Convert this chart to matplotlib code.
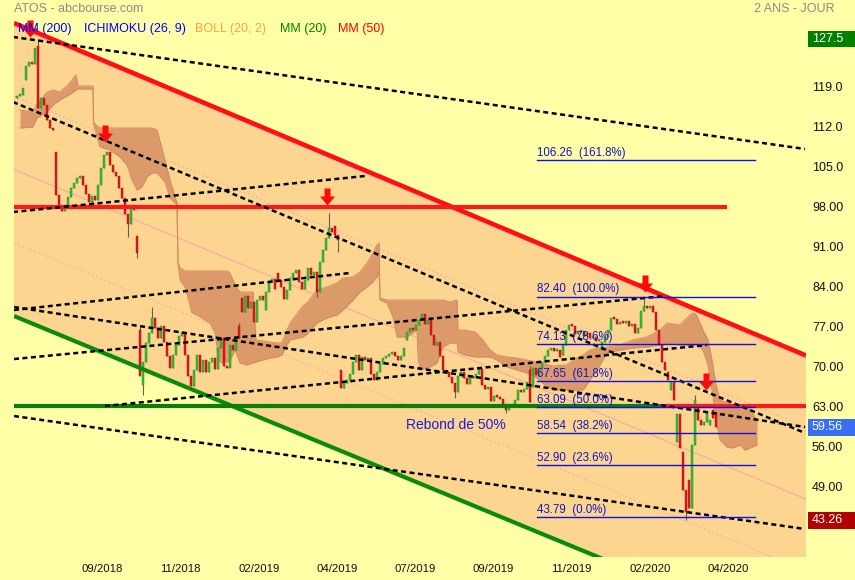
import numpy as np
import matplotlib
matplotlib.use("Agg")
import matplotlib.pyplot as plt
import matplotlib.transforms as mtransforms
from matplotlib.path import Path
from matplotlib.markers import MarkerStyle
from matplotlib.patches import Rectangle

plt.rcParams['font.family'] = ['Liberation Sans', 'DejaVu Sans']

# ---------------------------------------------------------------- data
# candles: one bar per two sessions, prices in EUR
opens = [
    117.18, 117.53, 117.70, 120.33, 122.78, 123.48, 123.13, 126.28, 115.43, 117.18,
    115.95, 113.33, 111.93, 107.73, 100.20, 97.93, 97.40, 98.45, 99.85, 101.43,
    102.30, 103.18, 103.53, 101.95, 100.38, 98.98, 100.03, 99.33, 101.95, 104.93,
    107.20, 107.73, 105.45, 104.23, 103.53, 101.43, 99.68, 96.88, 95.13, 98.45,
    93.03, 76.58, 66.96, 70.98, 74.30, 76.06, 78.68, 76.93, 75.18, 77.28,
    74.48, 72.03, 69.93, 72.20, 73.96, 75.53, 76.23, 72.20, 68.53, 66.78,
    69.58, 72.20, 69.23, 71.33, 69.23, 70.98, 71.68, 69.76, 73.43, 75.18,
    70.28, 69.93, 73.96, 73.08, 77.28, 82.18, 79.73, 82.53, 80.43, 81.48,
    77.98, 81.83, 82.53, 80.08, 83.23, 84.98, 85.51, 86.56, 85.33, 84.11,
    82.01, 83.58, 85.68, 86.56, 87.08, 84.98, 83.76, 85.33, 87.43, 86.21,
    86.73, 83.23, 88.48, 90.58, 92.68, 94.43, 94.78, 93.21, 69.58, 66.43,
    67.31, 67.83, 68.88, 70.98, 72.20, 69.58, 71.86, 71.33, 71.68, 68.88,
    67.83, 69.23, 70.63, 71.68, 72.03, 72.38, 72.73, 72.03, 71.33, 72.03,
    74.83, 76.23, 76.93, 76.58, 77.46, 78.33, 79.38, 77.63, 78.33, 75.71,
    73.96, 74.48, 72.03, 69.58, 69.23, 68.36, 67.31, 65.73, 68.53, 69.23,
    68.18, 67.13, 68.53, 68.18, 68.88, 69.76, 66.96, 66.26, 66.61, 64.16,
    65.03, 64.86, 64.51, 63.63, 62.58, 63.28, 63.63, 64.33, 66.08, 65.73,
    66.26, 69.58, 66.61, 69.93, 68.71, 69.93, 70.98, 72.03, 73.08, 73.43,
    72.91, 73.08, 72.20, 73.96, 76.58, 77.46, 77.28, 75.88, 76.23, 76.41,
    75.53, 76.06, 75.18, 75.36, 74.66, 73.08, 74.48, 75.36, 76.58, 78.68,
    78.51, 77.63, 77.98, 77.81, 78.16, 77.28, 77.63, 76.06, 76.93, 79.91,
    80.78, 80.43, 80.78, 79.73, 76.58, 73.96, 70.98, 69.23, 66.08, 67.48,
    56.98, 61.88, 55.23, 48.58, 50.33, 45.43, 56.46, 63.46, 60.83, 59.96,
    60.48, 59.96, 62.58, 62.23,
]
closes = [
    117.53, 117.70, 118.93, 122.78, 123.48, 123.13, 125.93, 115.43, 117.18, 115.95,
    113.33, 111.93, 111.58, 100.20, 97.93, 97.40, 98.45, 99.85, 101.43, 102.30,
    103.18, 103.53, 101.95, 100.38, 98.98, 100.03, 99.33, 101.95, 104.93, 107.20,
    107.73, 105.45, 104.23, 103.53, 101.43, 99.68, 96.88, 95.13, 98.45, 97.58,
    90.06, 68.53, 70.98, 74.30, 76.06, 78.68, 76.93, 75.18, 77.28, 74.48,
    72.03, 69.93, 72.20, 73.96, 75.53, 76.23, 72.20, 68.53, 66.78, 69.58,
    72.20, 69.23, 71.33, 69.23, 70.98, 71.68, 69.76, 73.43, 75.18, 70.28,
    69.93, 73.96, 73.08, 75.18, 75.18, 79.73, 82.53, 80.43, 81.48, 77.98,
    81.83, 82.53, 81.83, 83.23, 84.98, 85.51, 83.76, 85.33, 84.11, 82.01,
    83.58, 85.68, 86.56, 87.08, 84.98, 83.76, 85.33, 87.43, 86.21, 86.73,
    83.23, 88.48, 90.58, 92.68, 94.43, 93.73, 93.21, 92.33, 66.43, 67.31,
    67.83, 68.88, 70.98, 72.20, 69.58, 71.86, 71.33, 71.68, 68.88, 67.83,
    69.23, 70.63, 71.68, 72.03, 72.38, 72.73, 72.03, 71.33, 72.03, 73.43,
    76.23, 76.93, 76.58, 77.46, 78.33, 79.38, 77.63, 78.33, 75.71, 73.96,
    74.48, 72.03, 69.58, 69.23, 68.36, 67.31, 65.73, 68.53, 69.23, 68.18,
    67.13, 68.53, 68.18, 68.88, 69.76, 66.96, 66.26, 66.61, 64.16, 65.03,
    64.86, 64.51, 63.63, 62.58, 63.28, 63.63, 64.33, 66.08, 65.73, 66.26,
    67.48, 63.98, 69.93, 68.71, 69.93, 70.98, 72.03, 73.08, 73.43, 72.91,
    73.08, 71.86, 73.96, 76.58, 77.46, 77.28, 75.88, 76.23, 76.41, 75.53,
    76.06, 75.18, 75.36, 74.66, 74.83, 74.48, 75.36, 76.58, 78.68, 78.51,
    77.63, 77.98, 77.81, 78.16, 77.28, 77.63, 76.06, 76.93, 79.91, 80.78,
    80.43, 80.78, 79.73, 76.58, 73.96, 70.98, 69.58, 67.83, 67.48, 64.33,
    61.88, 55.93, 48.58, 44.73, 45.43, 56.46, 64.33, 60.83, 59.96, 60.48,
    62.23, 60.83, 61.18, 59.56,
]
# intraday extremes reaching beyond the body (bar index -> price)
wick_high = {7: 127.5, 41: 77.10, 45: 80.60, 74: 77.80, 104: 97.06,
             171: 70.28, 209: 82.40, 226: 65.21}
wick_low = {37: 92.86, 40: 89.18, 42: 65.20, 100: 82.36, 107: 90.23,
            146: 64.68, 163: 62.06, 223: 43.26}

# Ichimoku (26, 9) cloud envelope: bar position, upper edge, lower edge
cloud_x = [
    1.0, 5.33, 6.67, 10.0, 12.0, 14.33, 16.67, 18.33, 19.67, 20.33,
    25.33, 25.5, 26.67, 27.67, 31.0, 34.33, 36.67, 38.33, 40.0, 41.67,
    43.33, 45.0, 46.67, 49.33, 51.0, 53.0, 53.33, 53.67, 54.33, 56.0,
    58.33, 60.0, 64.33, 66.0, 66.67, 67.0, 68.33, 70.0, 71.0, 72.67,
    74.33, 76.67, 78.67, 79.67, 82.0, 84.33, 86.67, 88.33, 90.0, 91.0,
    95.33, 96.67, 100.0, 103.33, 106.67, 108.67, 112.0, 114.33, 116.67, 118.67,
    120.0, 120.67, 121.0, 123.33, 125.33, 126.67, 130.0, 133.33, 133.67, 134.33,
    137.67, 140.0, 142.0, 144.33, 146.67, 147.0, 149.33, 152.67, 155.33, 157.67,
    160.0, 163.33, 166.67, 170.0, 173.33, 176.0, 178.67, 183.33, 185.33, 188.67,
    191.0, 193.33, 196.67, 201.0, 205.33, 210.0, 214.33, 216.67, 221.0, 224.33,
    225.67, 226.67, 228.67, 230.33, 231.67, 233.0, 234.33, 236.67, 238.67, 241.0,
    242.67, 244.33, 246.67,
]
cloud_top = [
    115.08, 114.73, 116.13, 118.23, 118.58, 118.23, 119.28, 120.33, 121.21, 119.28,
    119.28, 112.98, 112.28, 111.93, 111.93, 111.93, 111.93, 111.93, 111.93, 111.93,
    111.93, 111.93, 111.58, 106.33, 102.83, 99.33, 98.98, 88.48, 87.43, 86.91,
    86.91, 86.91, 86.91, 86.91, 86.91, 86.91, 86.91, 86.91, 86.56, 84.46,
    83.23, 83.23, 83.23, 74.83, 74.66, 74.48, 74.31, 74.31, 76.58, 77.81,
    80.78, 81.31, 83.58, 84.11, 84.81, 85.68, 85.86, 86.73, 88.31, 90.06,
    91.46, 91.81, 82.18, 81.83, 81.83, 81.83, 81.83, 81.83, 81.83, 81.83,
    81.83, 81.83, 81.83, 81.48, 81.83, 76.58, 76.58, 76.23, 74.83, 73.08,
    72.21, 71.86, 71.68, 71.33, 70.98, 70.63, 70.28, 70.46, 71.33, 72.21,
    73.08, 73.43, 73.61, 73.96, 74.83, 75.36, 76.58, 77.81, 77.46, 79.21,
    79.56, 79.03, 76.58, 74.83, 71.33, 66.96, 64.33, 63.81, 63.46, 62.58,
    63.46, 62.58, 60.83,
]
cloud_bottom = [
    111.93, 112.10, 113.68, 114.73, 115.95, 116.83, 117.53, 118.06, 118.58, 118.76,
    118.76, 112.63, 110.36, 108.61, 108.08, 106.86, 105.46, 102.83, 101.08, 101.61,
    103.36, 104.06, 104.06, 102.48, 99.68, 98.63, 98.28, 87.96, 85.33, 84.11,
    79.56, 79.21, 77.81, 76.06, 73.61, 71.33, 70.81, 70.98, 71.33, 73.08,
    70.81, 70.46, 70.81, 70.98, 71.33, 71.68, 71.86, 72.21, 73.96, 74.83,
    75.36, 75.88, 77.81, 78.68, 79.21, 80.08, 81.83, 83.23, 84.11, 84.98,
    85.86, 86.73, 81.83, 81.31, 78.86, 75.36, 75.36, 76.58, 71.86, 69.58,
    70.11, 70.81, 73.61, 74.31, 74.31, 72.73, 72.21, 71.86, 71.86, 71.86,
    71.33, 70.11, 69.58, 69.06, 68.18, 66.96, 66.08, 66.08, 66.08, 66.08,
    67.83, 69.58, 72.56, 73.08, 73.43, 73.61, 73.96, 74.31, 73.96, 73.96,
    73.96, 73.96, 73.08, 70.46, 66.08, 60.83, 57.33, 56.11, 55.93, 56.46,
    55.58, 55.93, 56.46,
]

# bearish channel: (bar, price) at both ends
channel_top = ((-1.0, 130.30), (263.0, 72.12))
channel_bottom = ((-1.0, 79.03), (263.0, 21.85))

# dotted trend lines: bar0, price0, bar1, price1
trend_lines = [
    (-1.33, 127.86, 262.67, 108.26),
    (-1.33, 116.48, 262.67, 58.56),
    (-1.33, 97.23, 116.0, 103.53),
    (-1.0, 80.08, 111.0, 86.56),
    (-1.0, 80.60, 262.67, 59.61),
    (-1.0, 71.50, 216.0, 82.53),
    (29.33, 63.28, 230.0, 73.96),
    (-1.0, 61.53, 262.67, 41.76),
]

# horizontal levels: price, bar0, bar1, colour
levels = [
    (98.1, -1.0, 236.67, '#FF1A1A'),
    (63.2, -1.0, 214.33, '#0A7D0A'),
    (63.2, 214.33, 263.0, '#FF1A1A'),
]

# resistance arrows (bar, price of the tip)
arrow_x = [4.33, 29.33, 103.33, 209.33, 229.67]
arrow_y = [127.86, 109.48, 98.45, 83.23, 66.08]

# Fibonacci retracement
fib_levels = [106.26, 82.40, 74.13, 67.65, 63.09, 58.54, 52.90, 43.79]
fib_pcts = ['161.8%', '100.0%', '78.6%', '61.8%', '50.0%', '38.2%', '23.6%', '0.0%']
fib_span = (173.33, 246.0)

# axis labelling
price_ticks = [119.0, 112.0, 105.0, 98.0, 91.0, 84.0, 77.0, 70.0, 63.0, 56.0, 49.0]
price_tags = [(127.5, '#008000'), (59.56, '#3A6EF0'), (43.26, '#B00000')]
date_ticks = [28.33, 54.33, 80.67, 106.67, 132.67, 158.67, 184.67, 211.0, 237.0]
date_labels = ['09/2018', '11/2018', '02/2019', '04/2019', '07/2019',
               '09/2019', '11/2019', '02/2020', '04/2020']

legend_items = [('MM (200)', '#0000FF', 18), ('ICHIMOKU (26, 9)', '#0000FF', 84),
                ('BOLL (20, 2)', '#FFA040', 195), ('MM (20)', '#008000', 280),
                ('MM (50)', '#FF0000', 338)]

# ---------------------------------------------------------------- figure
BG = '#FFFFA8'
W, H = 855, 580
fig = plt.figure(figsize=(W / 100, H / 100), dpi=100, facecolor=BG)
ax = fig.add_axes([14 / W, 1 - 557 / H, 792 / W, 539 / H])
ax.set_facecolor(BG)
ax.set_xlim(-1, 263)
ax.set_ylim(36.86, 131.18)
for s in ax.spines.values():
    s.set_visible(False)

# channel body
(tx0, ty0), (tx1, ty1) = channel_top
(bx0, by0), (bx1, by1) = channel_bottom
ax.fill([tx0, tx1, bx1, bx0], [ty0, ty1, by1, by0], color='#FCD591', lw=0, zorder=1)
for frac, ls in [(0.25, (0, (1.5, 2.5))), (0.5, '-'), (0.75, (0, (1.5, 2.5)))]:
    ax.plot([tx0, tx1], [ty0 + frac * (by0 - ty0), ty1 + frac * (by1 - ty1)],
            color='#F5A8A8', lw=0.8, ls=ls, zorder=2)
ax.plot([tx0, tx1], [ty0 - 0.55, ty1 - 0.55], color='#F8B8B8', lw=0.8, zorder=2)

# Ichimoku cloud
ax.fill_between(cloud_x, cloud_bottom, cloud_top, color='#DC9A6B', lw=0, zorder=3)
ax.plot(cloud_x, cloud_top, color='#D38A5B', lw=0.7, zorder=3)
ax.plot(cloud_x, cloud_bottom, color='#D38A5B', lw=0.7, zorder=3)

# candles
xb = np.arange(len(closes))
o = np.array(opens)
c = np.array(closes)
body_lo = np.minimum(o, c)
body_hi = np.maximum(o, c)
hi = body_hi.copy()
lo = body_lo.copy()
for k, v in wick_high.items():
    hi[k] = v
for k, v in wick_low.items():
    lo[k] = v
ax.vlines(xb, lo, hi, color='#6E5A5A', lw=0.8, zorder=4)
up = c >= o
h = np.maximum(body_hi - body_lo, 0.3)
ax.bar(xb[up], h[up], bottom=body_lo[up], width=0.88, color='#2FC22F',
       edgecolor='#1E8A1E', lw=0.3, zorder=5)
ax.bar(xb[~up], h[~up], bottom=body_lo[~up], width=0.88, color='#E5141C',
       edgecolor='#A81010', lw=0.3, zorder=5)

# channel borders and horizontal levels
ax.plot([tx0, tx1], [ty0, ty1], color='#FF1010', lw=3.3, zorder=6, solid_capstyle='butt')
ax.plot([bx0, bx1], [by0, by1], color='#0A8A0A', lw=3.0, zorder=6, solid_capstyle='butt')
for price, x0, x1, col in levels:
    ax.plot([x0, x1], [price, price], color=col, lw=3.0, zorder=6, solid_capstyle='butt')

# dotted trend lines
for x0, y0, x1, y1 in trend_lines:
    ax.plot([x0, x1], [y0, y1], color='black', lw=1.8, ls=(0, (2.0, 1.4)), zorder=7)

# Fibonacci retracement
for lvl, pct in zip(fib_levels, fib_pcts):
    ax.plot(fib_span, [lvl, lvl], color='#1010E6', lw=1.0, zorder=8)
    ax.text(fib_span[0], lvl + 0.25, f'{lvl:.2f}  ({pct})', color='#1414C8',
            fontsize=8.3, ha='left', va='bottom', zorder=9)

ax.text(129.67, 59.95, 'Rebond de 50%', color='#1A1AE6', fontsize=10,
        ha='left', va='center', zorder=9)

# resistance arrows
arrow = Path([(-3, 17), (3, 17), (3, 9), (7.5, 9), (0, 0), (-7.5, 9), (-3, 9), (-3, 17), (-3, 17)],
             [Path.MOVETO] + [Path.LINETO] * 7 + [Path.CLOSEPOLY])
ax.plot(arrow_x, arrow_y, ls='none', marker=MarkerStyle(arrow), ms=24.5,
        color='#FF0A0A', mec='none', zorder=10, clip_on=False)

# price axis on the right
trans = mtransforms.blended_transform_factory(ax.transAxes, ax.transData)
xt = (812 - 14) / 792
for v in price_ticks:
    ax.text(xt, v, f'{v:.1f}' if v >= 100 else f'{v:.2f}', transform=trans,
            fontsize=9, color='#111111', ha='left', va='center', clip_on=False)
for v, col in price_tags:
    ax.add_patch(Rectangle(((808 - 14) / 792, v - 1.45), 47 / 792, 2.9, transform=trans,
                           facecolor=col, edgecolor='none', clip_on=False, zorder=11))
    ax.text(xt, v, f'{v:.2f}' if v < 100 else f'{v:.1f}', transform=trans,
            fontsize=9, color='white', ha='left', va='center', clip_on=False, zorder=12)

# date axis
ax.set_yticks([])
ax.set_xticks(date_ticks)
ax.set_xticklabels(date_labels)
ax.tick_params(axis='x', length=0, pad=5, labelsize=8.2, colors='#111111')

# header
fig.text(14 / W, 1 - 9 / H, 'ATOS - abcbourse.com', color='#8A8A8A', fontsize=9,
         ha='left', va='center')
fig.text(835 / W, 1 - 9 / H, '2 ANS - JOUR', color='#8A8A8A', fontsize=9,
         ha='right', va='center')
for label, col, px in legend_items:
    fig.text(px / W, 1 - 29 / H, label, color=col, fontsize=9, ha='left', va='center',
             zorder=20)

fig.savefig('out.png', dpi=100, facecolor=BG)
